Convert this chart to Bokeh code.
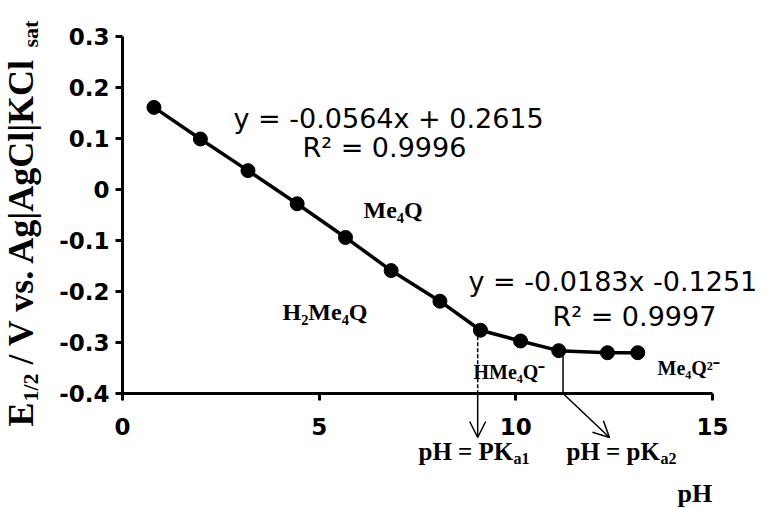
import math
from bokeh.plotting import figure
from bokeh.models import Range1d, FixedTicker, Label, Arrow, OpenHead
from bokeh.embed import file_html
from bokeh.resources import INLINE

# ---- data ----
ph = [0.80, 1.98, 3.19, 4.44, 5.67, 6.83, 8.07, 9.10, 10.12, 11.09, 12.33, 13.10]
e_half = [0.161, 0.099, 0.037, -0.028, -0.094, -0.159, -0.219, -0.276, -0.297, -0.316, -0.320, -0.320]
x_ticks = [0, 5, 10, 15]
y_ticks = [-0.4, -0.3, -0.2, -0.1, 0, 0.1, 0.2, 0.3]
y_tick_labels = ["-0.4", "-0.3", "-0.2", "-0.1", "0", "0.1", "0.2", "0.3"]
pka1 = 9.03
pka2 = 11.2
eq1 = "y = -0.0564x + 0.2615"
r1 = "R\u00b2 = 0.9996"
eq2 = "y = -0.0183x -0.1251"
r2 = "R\u00b2 = 0.9997"

W, H = 774, 508
# pixel placement of the axes box
L, R, T, B = 122, 712, 36, 393
X0, X1, Y0, Y1 = 0, 15, -0.4, 0.3

def dx(px):
    return X0 + (px - L) * (X1 - X0) / (R - L)

def dy(py):
    return Y1 - (py - T) * (Y1 - Y0) / (B - T)

p = figure(width=W, height=H, output_backend="svg", toolbar_location=None,
           x_range=Range1d(dx(0), dx(W)), y_range=Range1d(dy(H), dy(0)))
p.min_border = 0
p.outline_line_color = None
p.background_fill_color = "white"
p.border_fill_color = "white"
p.xgrid.visible = False
p.ygrid.visible = False

for ax in (p.xaxis, p.yaxis):
    ax.axis_line_width = 3
    ax.axis_line_color = "black"
    ax.major_tick_line_width = 3
    ax.major_tick_line_color = "black"
    ax.major_tick_out = 7
    ax.major_tick_in = 0
    ax.minor_tick_line_color = None
    ax.major_label_text_font = "DejaVu Sans"
    ax.major_label_text_font_style = "bold"
    ax.major_label_text_font_size = "23px"
    ax.major_label_text_color = "black"

p.xaxis.ticker = FixedTicker(ticks=x_ticks)
p.xaxis.fixed_location = Y0
p.xaxis.bounds = (X0, X1)
p.xaxis.major_label_standoff = 17
p.yaxis.ticker = FixedTicker(ticks=y_ticks)
p.yaxis.fixed_location = X0
p.yaxis.bounds = (Y0, Y1)
p.yaxis.major_label_overrides = {(0 if t == 0 else t): lab for t, lab in zip(y_ticks, y_tick_labels)}
p.yaxis.major_label_standoff = 6

# guide lines for pKa
p.segment(x0=[pka1], y0=[e_half[7]], x1=[pka1], y1=[Y0], line_width=1.5,
          line_color="black", line_dash="4 2")
p.segment(x0=[pka2], y0=[e_half[9]], x1=[pka2], y1=[Y0], line_width=1.5,
          line_color="black")

# data
p.line(ph, e_half, line_width=3.5, line_color="black")
p.scatter(ph, e_half, size=14, fill_color="black", line_color="black")

# arrows below the axis
p.add_layout(Arrow(end=OpenHead(size=16, line_width=1.5, line_color="black"),
                   x_start=pka1, y_start=Y0, x_end=pka1, y_end=dy(437),
                   line_width=1.5, line_color="black"))
p.add_layout(Arrow(end=OpenHead(size=16, line_width=1.5, line_color="black"),
                   x_start=pka2, y_start=Y0, x_end=dx(609), y_end=dy(437),
                   line_width=1.5, line_color="black"))

def lab(text, px, py, size, font="Liberation Serif", style="bold", xoff=0):
    """px = left edge, py = baseline (pixels); label anchored at its middle."""
    lb = Label(x=dx(px), y=dy(py - 0.35 * size), text=text, x_offset=xoff,
               text_font=font, text_font_style=style, text_font_size=f"{size}px",
               text_color="black", text_baseline="middle", text_align="left")
    p.add_layout(lb)

def vlab(text, bx, py, size, font="Liberation Serif", style="bold"):
    """rotated label: bx = baseline x, py = bottom start (pixels)."""
    lb = Label(x=dx(bx - 0.35 * size), y=dy(py), text=text, angle=math.pi / 2,
               text_font=font, text_font_style=style, text_font_size=f"{size}px",
               text_color="black", text_baseline="middle", text_align="left")
    p.add_layout(lb)

# equations
lab(eq1, 233, 127, 27, font="DejaVu Sans", style="normal")
lab(r1, 302, 156, 27, font="DejaVu Sans", style="normal")
lab(eq2, 468, 290, 27, font="DejaVu Sans", style="normal")
lab(r2, 552, 325, 27, font="DejaVu Sans", style="normal")

# species labels
lab("Me\u2084Q", 363, 218, 24)
lab("H\u2082Me\u2084Q", 282, 320, 24)
lab("HMe\u2084Q\u207b", 473, 378, 20)
lab("Me\u2084Q\u00b2\u207b", 657, 374, 20)

# pKa labels
lab("pH = PK", 418, 460, 25)
lab("a1", 418, 464, 16, xoff=95)
lab("pH = pK", 566, 460, 25)
lab("a2", 566, 464, 16, xoff=94)

# x axis title
lab("pH", 677, 502, 26)

# y axis title (rotated, composed of pieces)
vlab("E", 33, 426, 36)
vlab("1/2", 38, 401, 22)
vlab("/ V vs. Ag|AgCl|KCl", 33, 364, 36)
vlab("sat", 38, 47, 22)

open("out.html", "w").write(file_html(p, INLINE))
